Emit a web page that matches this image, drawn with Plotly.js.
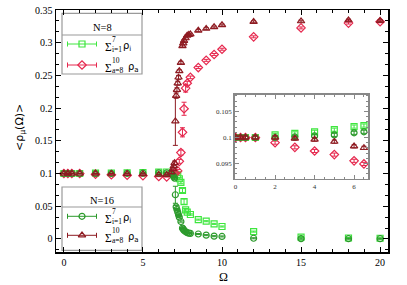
<!DOCTYPE html>
<html>
<head>
<meta charset="utf-8">
<script src="https://cdn.plot.ly/plotly-3.0.1.min.js"></script>
<style>html,body{margin:0;padding:0;background:#fff;}#plot{width:407px;height:285px;}</style>
</head>
<body>
<div id="plot"></div>
<script>
// ---- data ----
const omega8 = [0, 0.25, 0.5, 1, 2, 3, 4, 5, 6, 6.5, 7, 7.2, 7.3, 7.4, 7.5, 7.6, 7.7, 7.8, 8, 8.5, 9, 9.5, 10, 12, 15, 18, 20];
const rhoI8  = [0.1, 0.1, 0.1, 0.1, 0.1005, 0.1008, 0.1011, 0.1015, 0.1021, 0.1023, 0.0995, 0.098, 0.092, 0.0864, 0.074, 0.057, 0.0445, 0.041, 0.0373, 0.0295, 0.0271, 0.023, 0.019, 0.0112, 0.0028, 0.0014, 0.001];
const errI8  = [0.0003, 0.0003, 0.0003, 0.0003, 0.0003, 0.0003, 0.0003, 0.0003, 0.0003, 0.0003, 0.0008, 0.001, 0.0015, 0.002, 0.003, 0.004, 0.002, 0.0012, 0.001, 0.0008, 0.0008, 0.0008, 0.0008, 0.0008, 0.0008, 0.0008, 0.0008];
const rhoA8  = [0.1, 0.1, 0.1, 0.1, 0.099, 0.0981, 0.0974, 0.0967, 0.0955, 0.0949, 0.101, 0.104, 0.1186, 0.132, 0.163, 0.199, 0.2305, 0.238, 0.247, 0.262, 0.273, 0.282, 0.29, 0.309, 0.3226, 0.33, 0.332];
const errA8  = [0.0003, 0.0003, 0.0003, 0.0003, 0.0003, 0.0003, 0.0003, 0.0003, 0.0003, 0.0003, 0.0015, 0.002, 0.003, 0.004, 0.007, 0.01, 0.006, 0.003, 0.002, 0.0015, 0.0015, 0.0015, 0.0015, 0.0015, 0.0015, 0.0015, 0.0015];

const omega16 = [0, 0.25, 0.5, 1, 2, 3, 4, 5, 6, 6.5, 6.8, 6.9, 6.95, 7.0, 7.05, 7.1, 7.15, 7.2, 7.25, 7.3, 7.4, 7.5, 7.55, 7.6, 7.7, 7.8, 7.9, 8.0, 8.5, 9, 9.5, 10, 12, 15, 18, 20];
const rhoI16  = [0.1, 0.1, 0.1, 0.1, 0.1, 0.1001, 0.1003, 0.1005, 0.1009, 0.1011, 0.099, 0.097, 0.095, 0.093, 0.0675, 0.049, 0.045, 0.041, 0.037, 0.0333, 0.0266, 0.0165, 0.015, 0.013, 0.011, 0.0095, 0.0088, 0.0085, 0.0075, 0.0058, 0.0042, 0.0038, 0.001, 0.0005, 0.0003, 0.0003];
const errI16  = [0.0003, 0.0003, 0.0003, 0.0003, 0.0003, 0.0003, 0.0003, 0.0003, 0.0003, 0.0003, 0.001, 0.001, 0.001, 0.0015, 0.013, 0.002, 0.0015, 0.0015, 0.0012, 0.001, 0.001, 0.0008, 0.0008, 0.0008, 0.0008, 0.0008, 0.0008, 0.0008, 0.0008, 0.0008, 0.0008, 0.0008, 0.0008, 0.0008, 0.0008, 0.0008];
const rhoA16  = [0.1, 0.1, 0.1, 0.1, 0.1, 0.0998, 0.0996, 0.0992, 0.0983, 0.098, 0.102, 0.107, 0.111, 0.116, 0.18, 0.219, 0.228, 0.238, 0.247, 0.2566, 0.2695, 0.295, 0.299, 0.303, 0.307, 0.311, 0.312, 0.313, 0.3185, 0.3215, 0.324, 0.327, 0.332, 0.333, 0.3345, 0.3337];
const errA16  = [0.0003, 0.0003, 0.0003, 0.0003, 0.0003, 0.0003, 0.0003, 0.0003, 0.0003, 0.0003, 0.002, 0.002, 0.002, 0.003, 0.037, 0.004, 0.003, 0.003, 0.003, 0.002, 0.002, 0.0015, 0.0015, 0.0015, 0.0015, 0.0015, 0.0015, 0.0015, 0.0015, 0.0015, 0.0015, 0.0015, 0.0015, 0.0015, 0.0015, 0.0015];

const xTicksMain = [0, 5, 10, 15, 20];
const yTicksMain = [0, 0.05, 0.1, 0.15, 0.2, 0.25, 0.3, 0.35];
const xTicksInset = [0, 2, 4, 6];
const yTicksInset = [0.095, 0.1, 0.105];
const insetMaxOmega = 6.5;

// ---- styles ----
const FONT = 'Liberation Serif, Times New Roman, serif';
const C_I8 = '#3ee63e', C_A8 = '#e6284e', C_I16 = '#2c9a2c', C_A16 = '#8e1b22';
const series = [
  {x: omega8,  y: rhoI8,  e: errI8,  color: C_I8,  symbol: 'square-open',      size: 6},
  {x: omega8,  y: rhoA8,  e: errA8,  color: C_A8,  symbol: 'diamond-open',     size: 6.5},
  {x: omega16, y: rhoI16, e: errI16, color: C_I16, symbol: 'circle-open',      size: 6},
  {x: omega16, y: rhoA16, e: errA16, color: C_A16, symbol: 'triangle-up-open', size: 6.5}
];

const traces = [];
series.forEach(s => {
  traces.push({
    type: 'scatter', mode: 'markers', x: s.x, y: s.y, xaxis: 'x', yaxis: 'y',
    marker: {symbol: s.symbol, size: s.size, color: s.color, line: {width: 1.2, color: s.color}},
    error_y: {type: 'data', array: s.e, visible: true, color: s.color, thickness: 1, width: 2.5},
    hoverinfo: 'skip'
  });
});
series.forEach(s => {
  const n = s.x.filter(v => v <= insetMaxOmega).length;
  traces.push({
    type: 'scatter', mode: 'markers', x: s.x.slice(0, n), y: s.y.slice(0, n), xaxis: 'x2', yaxis: 'y2',
    marker: {symbol: s.symbol, size: s.size, color: s.color, line: {width: 1.2, color: s.color}},
    error_y: {type: 'data', array: s.e.slice(0, n), visible: true, color: s.color, thickness: 1, width: 2.5},
    hoverinfo: 'skip'
  });
});

// ---- manual legend boxes (pixel layout -> paper coords) ----
const L = 56, R = 388, T = 10, B = 252;
const px = v => (v - L) / (R - L);
const py = v => (B - v) / (B - T);
const halfKey = 14.5 / (R - L);

const legendBoxes = [
  {top: 13.3, bottom: 74, sep: 35, title: 'N=8', titleY: 28,
   rows: [{y: 44, s: 0, sup: '7', sub: 'i=1', rho: 'i'}, {y: 65, s: 1, sup: '10', sub: 'a=8', rho: 'a'}]},
  {top: 187, bottom: 250.3, sep: 207, title: 'N=16', titleY: 200.8,
   rows: [{y: 216.3, s: 2, sup: '7', sub: 'i=1', rho: 'i'}, {y: 235.3, s: 3, sup: '10', sub: 'a=8', rho: 'a'}]}
];
const boxL = 62, boxR = 142, keyX = 82, textX = 103.5;

const shapes = [];
const annotations = [];
legendBoxes.forEach(b => {
  shapes.push({type: 'rect', xref: 'paper', yref: 'paper', x0: px(boxL), x1: px(boxR), y0: py(b.bottom), y1: py(b.top),
    line: {color: '#9a9a9a', width: 1.2}, fillcolor: '#ffffff', layer: 'below'});
  shapes.push({type: 'line', xref: 'paper', yref: 'paper', x0: px(boxL), x1: px(boxR), y0: py(b.sep), y1: py(b.sep),
    line: {color: '#9a9a9a', width: 1.2}, layer: 'below'});
  annotations.push({xref: 'paper', yref: 'paper', x: px((boxL + boxR) / 2), y: py(b.titleY), text: b.title,
    showarrow: false, xanchor: 'center', yanchor: 'middle', font: {family: FONT, size: 10.5, color: '#000'}});
  b.rows.forEach(r => {
    const s = series[r.s];
    traces.push({
      type: 'scatter', mode: 'markers', x: [px(keyX)], y: [py(r.y)], xaxis: 'x3', yaxis: 'y3',
      marker: {symbol: s.symbol, size: s.size, color: s.color, line: {width: 1.2, color: s.color}},
      error_x: {type: 'data', array: [halfKey], visible: true, color: s.color, thickness: 1, width: 2.5},
      hoverinfo: 'skip', cliponaxis: false
    });
    annotations.push({xref: 'paper', yref: 'paper', x: px(textX), y: py(r.y + 2.5), text: 'Σ', showarrow: false,
      xanchor: 'left', yanchor: 'middle', borderpad: 0, font: {family: FONT, size: 11.5, color: '#000'}});
    annotations.push({xref: 'paper', yref: 'paper', x: px(textX + 7.5), y: py(r.y + 0.6),
      text: r.sup + '<br>' + r.sub, align: 'left', showarrow: false, borderpad: 0,
      xanchor: 'left', yanchor: 'middle', font: {family: FONT, size: 7.5, color: '#000'}});
    annotations.push({xref: 'paper', yref: 'paper', x: px(r.rho === 'i' ? 122 : 126.5), y: py(r.y + 2.5),
      text: 'ρ<sub>' + r.rho + '</sub>', showarrow: false, borderpad: 0,
      xanchor: 'left', yanchor: 'middle', font: {family: 'DejaVu Sans, sans-serif', size: 10, color: '#000'}});
  });
});

// axis titles drawn as annotations for exact placement
annotations.push({xref: 'paper', yref: 'paper', x: px(20), y: py(128), text: '&lt;ρ<sub>μ</sub>(Ω)&gt;',
  textangle: -90, showarrow: false, xanchor: 'center', yanchor: 'middle',
  font: {family: 'DejaVu Sans, sans-serif', size: 11, color: '#000'}});
annotations.push({xref: 'paper', yref: 'paper', x: px(223), y: py(277), text: 'Ω',
  showarrow: false, xanchor: 'center', yanchor: 'middle',
  font: {family: FONT, size: 12, color: '#000'}});

const axisCommon = {showgrid: false, zeroline: false, showline: true, mirror: 'ticks', ticks: 'inside'};

const layout = {
  width: 407, height: 285,
  margin: {l: 56, r: 19, t: 10, b: 33, pad: 0},
  paper_bgcolor: '#ffffff', plot_bgcolor: '#ffffff',
  showlegend: false,
  font: {family: FONT, size: 10, color: '#000'},
  xaxis: Object.assign({}, axisCommon, {
    domain: [0, 1], anchor: 'y', range: [-0.5, 20.5], tickmode: 'array', tickvals: xTicksMain,
    ticklen: 5, tickwidth: 1, tickcolor: '#000', linecolor: '#000', linewidth: 1.5,
    minor: {dtick: 1, tick0: 0, ticks: 'inside', ticklen: 3, tickcolor: '#000', tickwidth: 1},
    tickfont: {family: FONT, size: 10, color: '#000'}
  }),
  yaxis: Object.assign({}, axisCommon, {
    domain: [0, 1], anchor: 'x', range: [-0.02, 0.35], tickmode: 'array', tickvals: yTicksMain,
    ticklen: 5, tickwidth: 1, tickcolor: '#000', linecolor: '#000', linewidth: 1.5,
    minor: {dtick: 0.05 / 3, tick0: 0, ticks: 'inside', ticklen: 3, tickcolor: '#000', tickwidth: 1},
    tickfont: {family: FONT, size: 10, color: '#000'}
  }),
  xaxis2: Object.assign({}, axisCommon, {
    domain: [0.538, 0.94], anchor: 'y2', range: [-0.05, 6.71], tickmode: 'array', tickvals: xTicksInset,
    ticklen: 4, tickwidth: 1, tickcolor: '#888', linecolor: '#888', linewidth: 1.5,
    minor: {dtick: 0.5, tick0: 0, ticks: 'inside', ticklen: 2, tickcolor: '#888', tickwidth: 1},
    tickfont: {family: FONT, size: 7, color: '#333'}
  }),
  yaxis2: Object.assign({}, axisCommon, {
    domain: [0.3017, 0.649], anchor: 'x2', range: [0.092, 0.1082], tickmode: 'array', tickvals: yTicksInset,
    ticktext: ['0.095', '0.1', '0.105'],
    ticklen: 4, tickwidth: 1, tickcolor: '#888', linecolor: '#888', linewidth: 1.5,
    minor: {dtick: 0.001, tick0: 0, ticks: 'inside', ticklen: 2, tickcolor: '#888', tickwidth: 1},
    tickfont: {family: FONT, size: 7, color: '#333'}
  }),
  xaxis3: {overlaying: 'x', anchor: 'y3', range: [0, 1], visible: false, fixedrange: true},
  yaxis3: {overlaying: 'y', anchor: 'x3', range: [0, 1], visible: false, fixedrange: true},
  shapes: shapes,
  annotations: annotations
};

Plotly.newPlot('plot', traces, layout, {staticPlot: true, displayModeBar: false});
</script>
</body>
</html>
